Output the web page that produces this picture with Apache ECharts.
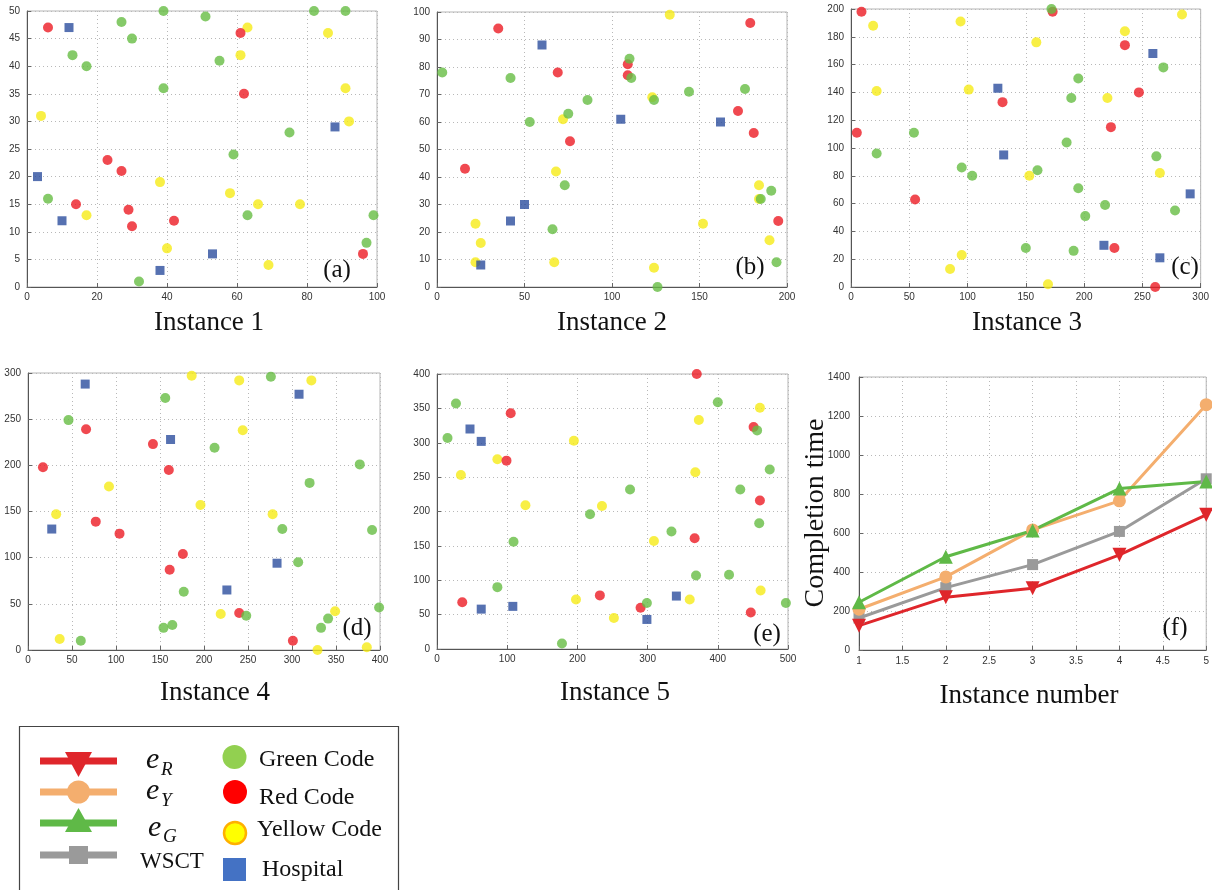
<!DOCTYPE html>
<html>
<head>
<meta charset="utf-8">
<title>Instances and completion time</title>
<script src="https://cdn.jsdelivr.net/npm/echarts@6/dist/echarts.min.js"></script>
<style>
  html, body { margin: 0; padding: 0; background: #ffffff; }
  #chart { width: 1212px; height: 890px; }
</style>
</head>
<body>
<div id="chart"></div>
<script>
// ---- Instance 1 (100 x 50 area) ----
const inst1Green = [[39,50],[51,49],[27,48],[30,45],[13,42],[17,40],[39,36],[55,41],[82,50],[91,50],[75,28],[59,24],[6,16],[63,13],[99,13],[97,8],[32,1]];
const inst1Red = [[6,47],[61,46],[62,35],[23,23],[27,21],[14,15],[29,14],[30,11],[42,12],[96,6]];
const inst1Yellow = [[63,47],[61,42],[86,46],[91,36],[92,30],[4,31],[38,19],[58,17],[66,15],[78,15],[17,13],[40,7],[69,4]];
const inst1Hospital = [[12,47],[3,20],[10,12],[38,3],[53,6],[88,29]];

// ---- Instance 2 (200 x 100 area) ----
const inst2Green = [[3,78],[42,76],[53,60],[75,63],[86,68],[73,37],[66,21],[110,83],[111,76],[124,68],[144,71],[176,72],[191,35],[185,32],[194,9],[126,0]];
const inst2Red = [[35,94],[69,78],[76,53],[16,43],[109,81],[109,77],[179,96],[172,64],[181,56],[195,24]];
const inst2Yellow = [[133,99],[72,61],[123,69],[68,42],[22,23],[25,16],[22,9],[67,9],[124,7],[152,23],[184,37],[184,32],[190,17]];
const inst2Hospital = [[60,88],[105,61],[162,60],[50,30],[42,24],[25,8]];

// ---- Instance 3 (300 x 200 area) ----
const inst3Green = [[172,200],[195,150],[189,136],[185,104],[195,71],[201,51],[218,59],[191,26],[150,28],[160,84],[104,80],[95,86],[54,111],[22,96],[268,158],[262,94],[278,55]];
const inst3Red = [[9,198],[5,111],[55,63],[130,133],[173,198],[235,174],[247,140],[223,115],[226,28],[261,0]];
const inst3Yellow = [[19,188],[94,191],[22,141],[101,142],[159,176],[235,184],[284,196],[220,136],[153,80],[265,82],[95,23],[85,13],[169,2]];
const inst3Hospital = [[126,143],[131,95],[259,168],[291,67],[217,30],[265,21]];

// ---- Instance 4 (400 x 300 area) ----
const inst4Green = [[46,249],[156,273],[212,219],[276,296],[377,201],[320,181],[289,131],[391,130],[307,95],[177,63],[154,24],[164,27],[248,37],[60,10],[333,24],[341,34],[399,46]];
const inst4Red = [[66,239],[17,198],[142,223],[160,195],[77,139],[104,126],[176,104],[161,87],[240,40],[301,10]];
const inst4Yellow = [[186,297],[240,292],[322,292],[244,238],[92,177],[196,157],[278,147],[32,147],[219,39],[349,42],[36,12],[329,0],[385,3]];
const inst4Hospital = [[65,288],[27,131],[162,228],[308,277],[283,94],[226,65]];

// ---- Instance 5 (500 x 400 area) ----
const inst5Green = [[27,357],[15,307],[86,90],[109,156],[178,8],[218,196],[275,232],[299,67],[334,171],[369,107],[400,359],[416,108],[432,232],[456,318],[459,183],[474,261],[497,67]];
const inst5Red = [[105,343],[99,274],[36,68],[232,78],[290,60],[370,400],[367,161],[451,323],[460,216],[447,53]];
const inst5Yellow = [[34,253],[86,276],[126,209],[195,303],[235,208],[198,72],[252,45],[309,157],[373,333],[368,257],[360,72],[460,351],[461,85]];
const inst5Hospital = [[47,320],[63,302],[63,58],[108,62],[299,43],[341,77]];

// ---- Completion time per instance ----
const instanceNumbers = [1, 2, 3, 4, 5];
const eR = [125, 270, 317, 488, 693];
const eY = [209, 375, 616, 765, 1258];
const eG = [245, 478, 613, 828, 864];
const wsct = [164, 320, 438, 608, 878];

// axis ranges and tick steps: [xMax, xStep, yMax, yStep]
const instanceRanges = [[100,20,50,5],[200,50,100,10],[300,50,200,20],[400,50,300,50],[500,100,400,50]];
const instanceTitles = ['Instance 1','Instance 2','Instance 3','Instance 4','Instance 5'];
const panelTags = ['(a)','(b)','(c)','(d)','(e)','(f)'];
const instanceGroups = [
  [inst1Green, inst1Red, inst1Yellow, inst1Hospital],
  [inst2Green, inst2Red, inst2Yellow, inst2Hospital],
  [inst3Green, inst3Red, inst3Yellow, inst3Hospital],
  [inst4Green, inst4Red, inst4Yellow, inst4Hospital],
  [inst5Green, inst5Red, inst5Yellow, inst5Hospital]
];

const SERIF = '"Liberation Serif", "Times New Roman", serif';
const SANS = '"Liberation Sans", Arial, Helvetica, sans-serif';

const C = {
  green: '#66bd43', red: '#ec1c24', yellow: '#f6eb16', blue: '#2c4e9d',
  lineR: '#df262b', lineY: '#f4ae6e', lineG: '#5fb947', lineW: '#9a9a9a'
};

const grids = [
  { left: 27,  top: 11,  width: 350, height: 276 },
  { left: 437, top: 12,  width: 350, height: 275 },
  { left: 851, top: 9,   width: 353, height: 278 },
  { left: 28,  top: 373, width: 352, height: 277 },
  { left: 437, top: 374, width: 351, height: 275 },
  { left: 859, top: 377, width: 348, height: 273 }
].map(g => Object.assign({ show: true, borderColor: '#b5b5b5', borderWidth: 1, backgroundColor: '#fff' }, g));

function axis(gridIndex, min, max, interval, margin) {
  return {
    gridIndex, type: 'value', min, max, interval,
    axisLine: { show: true, onZero: false, lineStyle: { color: '#555', width: 1 } },
    axisTick: { show: true, inside: true, length: 4, lineStyle: { color: '#666' } },
    axisLabel: { color: '#333', fontSize: 10, fontFamily: SANS, margin: margin,
      showMinLabel: true, showMaxLabel: true, formatter: v => String(v) },
    splitLine: { show: true, lineStyle: { color: '#b8b8b8', type: [1, 3], width: 1 } }
  };
}

const xAxes = [], yAxes = [];
instanceRanges.forEach((r, i) => {
  xAxes.push(axis(i, 0, r[0], r[1], 5));
  yAxes.push(axis(i, 0, r[2], r[3], 7));
});
xAxes.push(axis(5, 1, 5, 0.5, 6));
yAxes.push(axis(5, 0, 1400, 200, 9));

const series = [];
const kinds = [
  { idx: 2, color: C.yellow, symbol: 'circle', size: 10 },
  { idx: 1, color: C.red,    symbol: 'circle', size: 10 },
  { idx: 0, color: C.green,  symbol: 'circle', size: 10 },
  { idx: 3, color: C.blue,   symbol: 'rect',   size: 9 }
];
instanceGroups.forEach((grp, i) => {
  kinds.forEach(k => {
    series.push({
      type: 'scatter', xAxisIndex: i, yAxisIndex: i, clip: false,
      symbol: k.symbol, symbolSize: k.size,
      itemStyle: { color: k.color },
      data: grp[k.idx], z: 3
    });
  });
});

function timeLine(name, values, color, symbol, size, rotate) {
  return {
    name, type: 'line', xAxisIndex: 5, yAxisIndex: 5, clip: false,
    data: instanceNumbers.map((n, j) => [n, values[j]]),
    symbol, symbolSize: size, symbolRotate: rotate || 0, showSymbol: true,
    lineStyle: { color, width: 3 }, itemStyle: { color }, z: 3
  };
}
series.push(timeLine('WSCT', wsct, C.lineW, 'rect', 11));
series.push(timeLine('eR', eR, C.lineR, 'triangle', 14, 180));
series.push(timeLine('eY', eY, C.lineY, 'circle', 13));
series.push(timeLine('eG', eG, C.lineG, 'triangle', 14));

// ---- text and legend drawn as graphic elements ----
const graphic = [];
const titlePos = [[209, 323], [612, 323], [1027, 323], [215, 693], [615, 693]];
instanceTitles.forEach((t, i) => {
  graphic.push({ type: 'text', x: titlePos[i][0], y: titlePos[i][1],
    style: { text: t, font: '27px ' + SERIF, fill: '#111', textAlign: 'center', textVerticalAlign: 'middle' } });
});
graphic.push({ type: 'text', x: 1029, y: 696,
  style: { text: 'Instance number', font: '27px ' + SERIF, fill: '#111', textAlign: 'center', textVerticalAlign: 'middle' } });
graphic.push({ type: 'text', x: 816, y: 513, rotation: Math.PI / 2,
  style: { text: 'Completion time', font: '28px ' + SERIF, fill: '#111', textAlign: 'center', textVerticalAlign: 'middle' } });

const tagPos = [[337, 270], [750, 267], [1185, 267], [357, 628], [767, 634], [1175, 628]];
panelTags.forEach((t, i) => {
  graphic.push({ type: 'text', x: tagPos[i][0], y: tagPos[i][1], z: 10,
    style: { text: t, font: '25px ' + SERIF, fill: '#111', textAlign: 'center', textVerticalAlign: 'middle' } });
});

// legend box
graphic.push({ type: 'rect', shape: { x: 19.5, y: 726.5, width: 379, height: 180 },
  style: { fill: '#fff', stroke: '#444', lineWidth: 1.2 }, z: 1 });

const legLines = [
  { y: 761, color: C.lineR, mark: 'down' },
  { y: 792, color: C.lineY, mark: 'circle' },
  { y: 823, color: C.lineG, mark: 'up' },
  { y: 855, color: C.lineW, mark: 'square' }
];
legLines.forEach(l => {
  graphic.push({ type: 'line', z: 2, shape: { x1: 40, y1: l.y, x2: 117, y2: l.y },
    style: { stroke: l.color, lineWidth: 7 } });
  let el;
  if (l.mark === 'down') {
    el = { type: 'polygon', shape: { points: [[65, 752], [92, 752], [78.5, 777]] } };
  } else if (l.mark === 'up') {
    el = { type: 'polygon', shape: { points: [[65, 832], [92, 832], [78.5, 808]] } };
  } else if (l.mark === 'circle') {
    el = { type: 'circle', shape: { cx: 78.5, cy: 792, r: 11.5 } };
  } else {
    el = { type: 'rect', shape: { x: 69, y: 846, width: 19, height: 18 } };
  }
  el.z = 3;
  el.style = { fill: l.color };
  graphic.push(el);
});

// math-style series names
function mathLabel(sub, x, y, subY) {
  graphic.push({ type: 'text', x: x, y: y, z: 3,
    style: { text: 'e', font: 'italic 30px ' + SERIF, fill: '#111', textAlign: 'left', textVerticalAlign: 'middle' } });
  graphic.push({ type: 'text', x: x + 15, y: subY, z: 3,
    style: { text: sub, font: 'italic 19px ' + SERIF, fill: '#111', textAlign: 'left', textVerticalAlign: 'middle' } });
}
mathLabel('R', 146, 760, 770);
mathLabel('Y', 146, 791, 801);
mathLabel('G', 148, 828, 837);
graphic.push({ type: 'text', x: 140, y: 862, z: 3,
  style: { text: 'WSCT', font: '23px ' + SERIF, fill: '#111', textAlign: 'left', textVerticalAlign: 'middle' } });

// point legend
graphic.push({ type: 'circle', z: 3, shape: { cx: 234.5, cy: 757, r: 12 }, style: { fill: '#92d050' } });
graphic.push({ type: 'circle', z: 3, shape: { cx: 235, cy: 792, r: 12 }, style: { fill: '#ff0000' } });
graphic.push({ type: 'circle', z: 3, shape: { cx: 235, cy: 833, r: 11 }, style: { fill: '#ffff00', stroke: '#ffb000', lineWidth: 2.5 } });
graphic.push({ type: 'rect', z: 3, shape: { x: 223, y: 858, width: 23, height: 23 }, style: { fill: '#4472c4' } });
const codeLabels = [['Green Code', 259, 760], ['Red Code', 259, 798], ['Yellow Code', 257, 830], ['Hospital', 262, 870]];
codeLabels.forEach(c => {
  graphic.push({ type: 'text', x: c[1], y: c[2], z: 3,
    style: { text: c[0], font: '24px ' + SERIF, fill: '#111', textAlign: 'left', textVerticalAlign: 'middle' } });
});

const chart = echarts.init(document.getElementById('chart'), null, { renderer: 'canvas' });
chart.setOption({
  animation: false,
  backgroundColor: '#ffffff',
  grid: grids,
  xAxis: xAxes,
  yAxis: yAxes,
  series: series,
  graphic: graphic
});
</script>
</body>
</html>
